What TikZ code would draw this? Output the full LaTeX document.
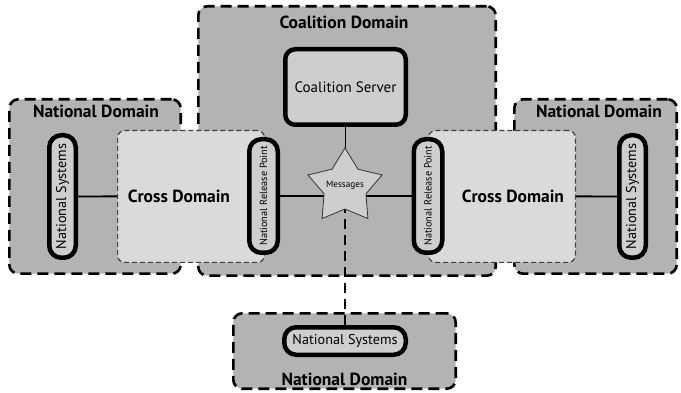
\documentclass[tikz,border=0pt]{standalone}
\usepackage{fontspec}
\setmainfont{PT Sans}
\pgfdeclarelayer{domains}
\pgfdeclarelayer{links}
\pgfsetlayers{domains,links,main}
\definecolor{domainfill}{RGB}{179,179,179}
\definecolor{crossfill}{RGB}{218,218,218}
\definecolor{boxfill}{RGB}{206,206,206}
\definecolor{starfill}{RGB}{206,206,206}
\tikzset{
  domainbox/.style={draw=black, fill=domainfill, line width=2.6pt,
    dash pattern=on 11pt off 6pt, rounded corners=9pt, inner sep=0pt},
  crossbox/.style={draw=black!75, fill=crossfill, line width=1.2pt,
    dash pattern=on 5pt off 3pt, rounded corners=7pt, inner sep=0pt},
  sysbox/.style={draw=black, fill=boxfill, line width=4.5pt,
    rounded corners=12pt, inner sep=0pt},
  title/.style={font=\fontsize{17.5}{20}\selectfont\bfseries},
  systext/.style={font=\fontsize{14.2}{16}\selectfont},
  servertext/.style={font=\fontsize{15}{17}\selectfont},
  reltext/.style={font=\fontsize{10.3}{12}\selectfont},
  starline/.style={draw=black!80, fill=starfill, line width=0.8pt},
  link/.style={line width=1.8pt},
  dashlink/.style={line width=2.4pt, dash pattern=on 10pt off 6pt}
}
\begin{document}
\begin{tikzpicture}[x=1pt, y=-1pt]
\useasboundingbox (0,0) rectangle (681,393);

% domains
\begin{pgfonlayer}{domains}
  \node[domainbox, minimum width=171.4pt, minimum height=174.4pt] (natL) at (95,186.5) {};
  \node[domainbox, minimum width=162.4pt, minimum height=174.4pt] (natR) at (595.5,186.5) {};
  \node[domainbox, minimum width=297.4pt, minimum height=269.4pt] (coal) at (347,141) {};
  \node[domainbox, minimum width=222.4pt, minimum height=75.4pt] (natB) at (344.5,351) {};
\end{pgfonlayer}

% domain titles
\node[title] (natLtitle) at (96,111) {National Domain};
\node[title] (natRtitle) at (599,111) {National Domain};
\node[title] (coaltitle) at (344,22) {Coalition Domain};
\node[title] (natBtitle) at (344.5,379) {National Domain};

% cross domains
\node[crossbox, minimum width=146.8pt, minimum height=131.8pt] (crossL) at (191,196.5) {};
\node[crossbox, minimum width=146.8pt, minimum height=131.8pt] (crossR) at (502,196.5) {};
\node[title] (crossLtitle) at (179,196) {Cross Domain};
\node[title] (crossRtitle) at (513,196) {Cross Domain};

% systems and release points
\node[sysbox, systext, rotate=90, minimum width=122.5pt, minimum height=26.5pt] (nsL) at (62.5,196.5) {National Systems};
\node[sysbox, systext, rotate=90, minimum width=122.5pt, minimum height=26.5pt] (nsR) at (632.5,196.5) {National Systems};
\node[sysbox, reltext, rotate=90, minimum width=113.5pt, minimum height=28.5pt] (nrpL) at (263.5,196) {National Release Point};
\node[sysbox, reltext, rotate=90, minimum width=113.5pt, minimum height=28.5pt] (nrpR) at (428,196) {National Release Point};
\node[sysbox, systext, minimum width=121.5pt, minimum height=27.5pt] (nsB) at (345,341) {National Systems};
\node[sysbox, servertext, rounded corners=10pt, minimum width=120.5pt, minimum height=75.5pt] (server) at (345.5,87) {Coalition Server};

% message hub: a plump five-pointed star around its centre
\coordinate (msg) at (345,187);
\begin{scope}[shift={(msg)}]
  \draw[starline] (-90:39) -- (-54:22) -- (-18:39) -- (18:22) -- (54:39)
    -- (90:22) -- (126:39) -- (162:22) -- (198:39) -- (234:22) -- cycle;
\end{scope}
\node[font=\fontsize{9.2}{11}\selectfont, inner sep=0pt] (msgtext) at (345,185) {Messages};

% connectors
\begin{pgfonlayer}{links}
  \draw[link] (nsL.center) -- (nrpL.center);
  \draw[link] (nrpL.center) -- (nrpL.center -| msg);
  \draw[link] (nrpR.center -| msg) -- (nrpR.center);
  \draw[link] (nrpR.center) -- (nsR.center);
  \draw[link] (server.center) -- (server.center |- msg);
  \draw[dashlink] (msg) -- (msg |- nsB.center);
\end{pgfonlayer}
\end{tikzpicture}
\end{document}
